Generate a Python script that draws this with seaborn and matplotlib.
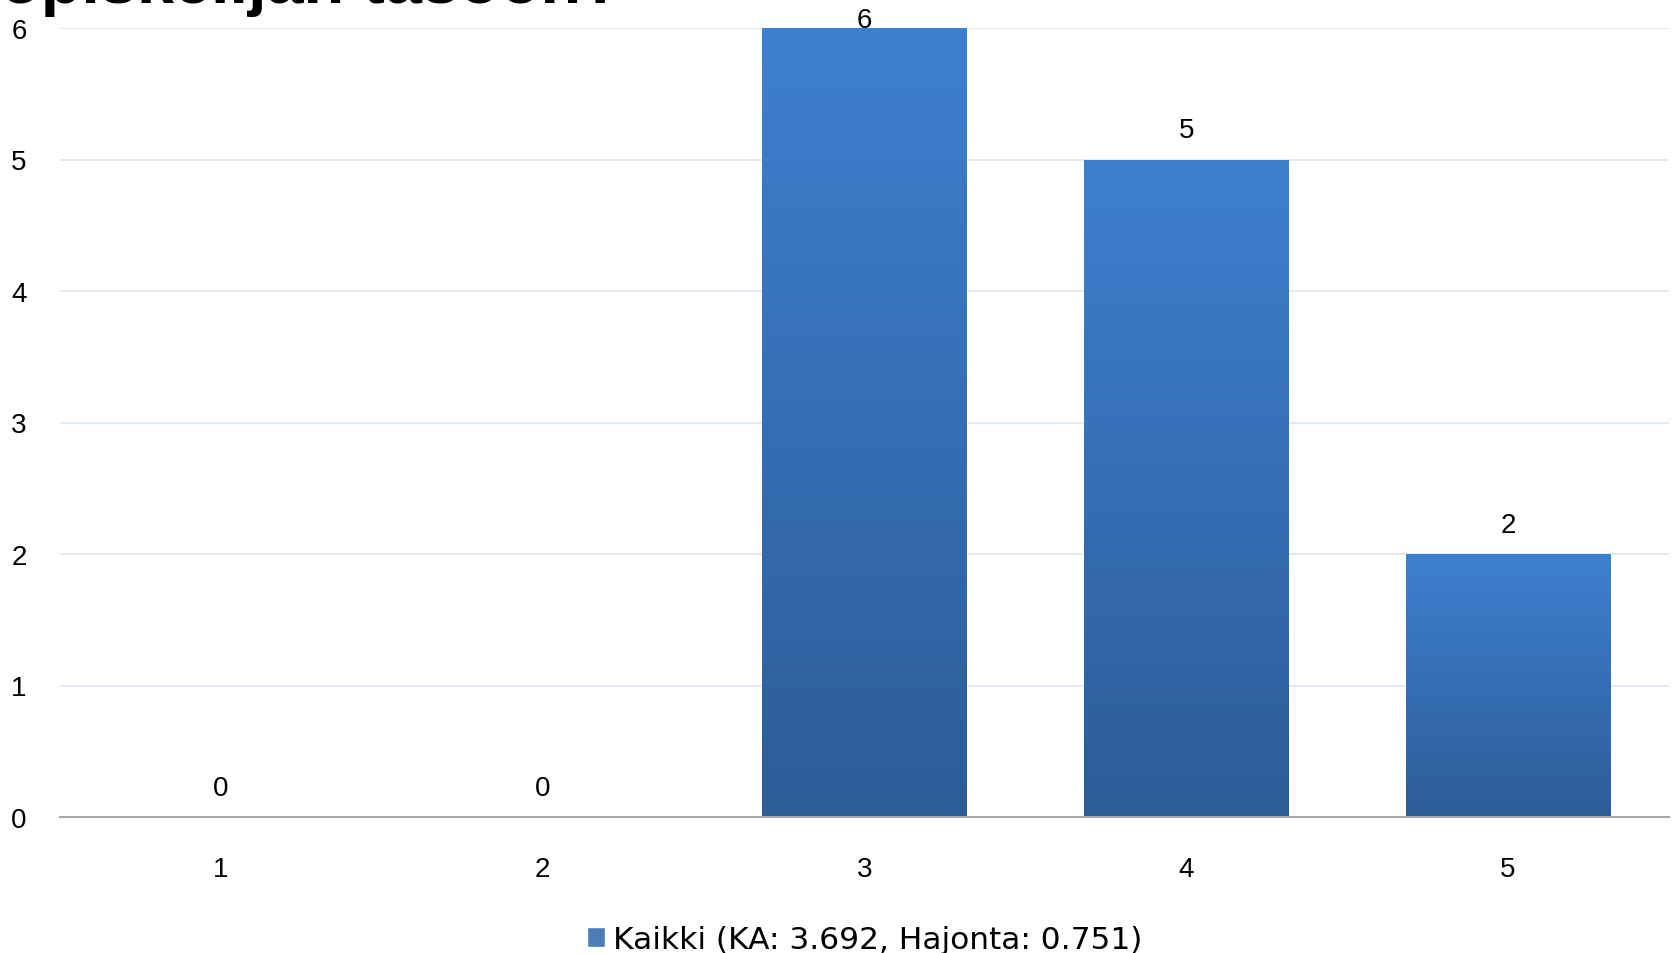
import numpy as np
import pandas as pd
import seaborn as sns
from matplotlib import pyplot as plt
from matplotlib.colors import LinearSegmentedColormap

categories = ['1', '2', '3', '4', '5']
counts = [0, 0, 6, 5, 2]
series_name = 'Kaikki (KA: 3.692, Hajonta: 0.751)'
title = 'Kuinka hyvin kurssi vastasi\nopiskelijan tasoon?'

sns.set_style('white')
plt.rcParams['font.family'] = ['Liberation Sans', 'DejaVu Sans']
plt.rcParams['text.color'] = 'black'

df = pd.DataFrame({'arvo': categories, 'lkm': counts})

fig = plt.figure(figsize=(16.75, 9.54), dpi=100)
ax = fig.add_axes([60 / 1675, 1 - 818 / 954, (1669 - 60) / 1675, (818 - 29) / 954])

sns.barplot(data=df, x='arvo', y='lkm', color='#3B7BC8', width=0.635,
            ax=ax, label=series_name, zorder=2)

ax.set_xlim(-0.5, 4.5)
ax.set_ylim(0, 6)
ax.set_yticks(range(0, 7))
ax.yaxis.grid(True, color='#DCE6F1', linewidth=1.2, zorder=0)
ax.set_axisbelow(True)
for side in ['top', 'right', 'left']:
    ax.spines[side].set_visible(False)
ax.spines['bottom'].set_color('#A6A6A6')
ax.spines['bottom'].set_linewidth(1.5)
ax.spines['bottom'].set_zorder(3)
ax.tick_params(axis='both', length=0, labelsize=20, colors='black')
ax.tick_params(axis='x', pad=28)
ax.tick_params(axis='y', pad=24)
ax.set_xlabel('')
ax.set_ylabel('')

# vertical gradient inside each bar
cmap = LinearSegmentedColormap.from_list('bar', ['#2D5C98', '#3E80D0'])
grad = np.linspace(0, 1, 256).reshape(-1, 1)
for patch in ax.patches:
    h = patch.get_height()
    if h <= 0:
        continue
    x0 = patch.get_x()
    w = patch.get_width()
    im = ax.imshow(grad, cmap=cmap, origin='lower', aspect='auto',
                   extent=(x0, x0 + w, 0, h), zorder=2)
    im.set_clip_path(patch)

for i, v in enumerate(counts):
    off = 6 if v == max(counts) else 21
    ax.annotate(str(v), xy=(i, v), xytext=(0, off), textcoords='offset points',
                ha='center', va='center', fontsize=20, color='black',
                clip_on=False, zorder=4)

ax.set_xlim(-0.5, 4.5)
ax.set_ylim(0, 6)

leg = ax.legend(loc='center', bbox_to_anchor=(0.5, -0.155), frameon=False,
                prop={'family': 'DejaVu Sans', 'size': 22.5},
                handlelength=0.6, handleheight=0.6, handletextpad=0.25,
                labelcolor='black')

fig.text(0.0, 1 - 3 / 954, title, fontsize=48, fontweight='bold', color='black',
         ha='left', va='baseline', linespacing=1.0)

fig.savefig('out.png', dpi=100)
